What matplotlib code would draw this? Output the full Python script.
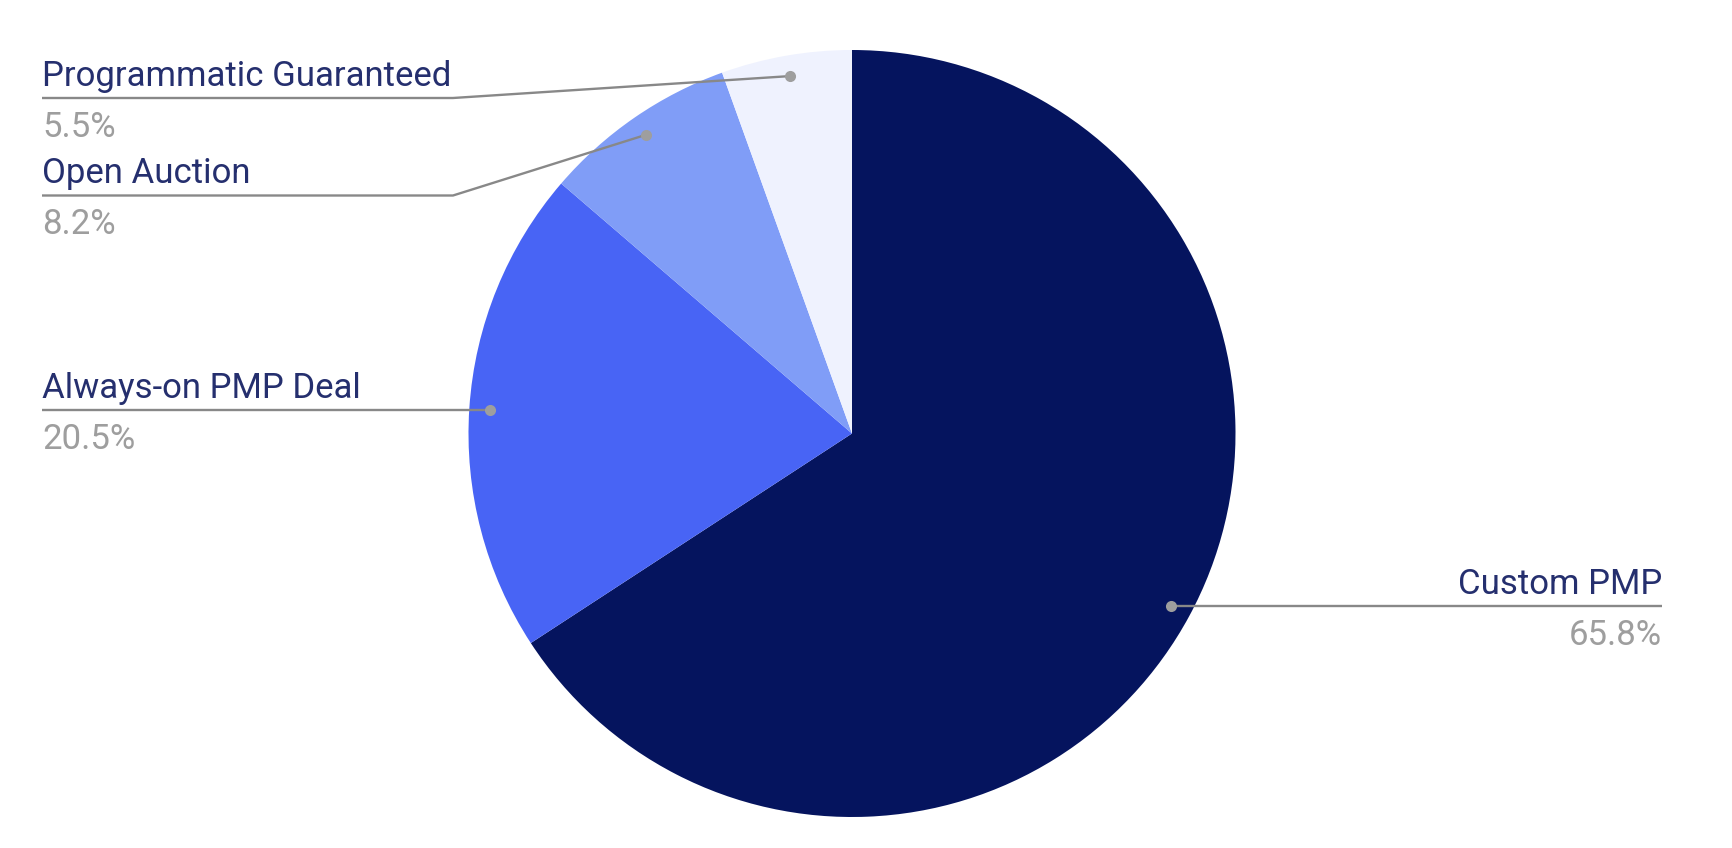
import matplotlib
matplotlib.use("Agg")
import matplotlib.pyplot as plt
import numpy as np

categories = ["Custom PMP", "Always-on PMP Deal", "Open Auction", "Programmatic Guaranteed"]
values = [65.8, 20.5, 8.2, 5.5]
pct_labels = ["65.8%", "20.5%", "8.2%", "5.5%"]
colors = ["#05145e", "#4864f5", "#809df7", "#eff2fe"]

W, H = 1732, 848
fig = plt.figure(figsize=(W / 100, H / 100), dpi=100)
ax = fig.add_axes([0, 0, 1, 1])

cx, cy, R = 852, H - 433.5, 383.5
wedges, _ = ax.pie(values, colors=colors, startangle=90, counterclock=False,
                   center=(cx, cy), radius=R, frame=True,
                   wedgeprops=dict(linewidth=0))
ax.set_xlim(0, W)
ax.set_ylim(0, H)
ax.set_aspect("equal")
ax.axis("off")

# label layout (image pixel coords); None -> horizontal at the dot
line_y = [None, None, 195.5, 98]
side = ["right", "left", "left", "left"]
elbow_x = [None, None, 453, 453]
left_x, right_x = 42, 1662

font = "Roboto"
fs = 25
label_color = "#252f6e"
pct_color = "#9e9e9e"
line_color = "#888888"

for w, ly, sd, ex, name, pct in zip(wedges, line_y, side, elbow_x, categories, pct_labels):
    mid = np.deg2rad((w.theta1 + w.theta2) / 2)
    dx = cx + 0.946 * R * np.cos(mid)
    dy = cy + 0.946 * R * np.sin(mid)
    y = dy if ly is None else H - ly
    if sd == "left":
        if ex is None:
            xs, ys = [left_x, dx], [y, dy]
        else:
            xs, ys = [left_x, ex, dx], [y, y, dy]
        tx, ha = left_x, "left"
    else:
        xs, ys = [dx, right_x], [dy, y]
        tx, ha = right_x, "right"
    ax.plot(xs, ys, color=line_color, lw=1.7, solid_capstyle="butt", zorder=3)
    ax.plot([dx], [dy], "o", color="#9e9e9e", ms=8, mec="none", zorder=4)
    ax.text(tx, y + 12, name, ha=ha, va="baseline", fontsize=fs, family=font,
            color=label_color)
    ax.text(tx, y - 39, pct, ha=ha, va="baseline", fontsize=fs, family=font,
            color=pct_color)

fig.savefig("out.png", dpi=100, facecolor="white")
